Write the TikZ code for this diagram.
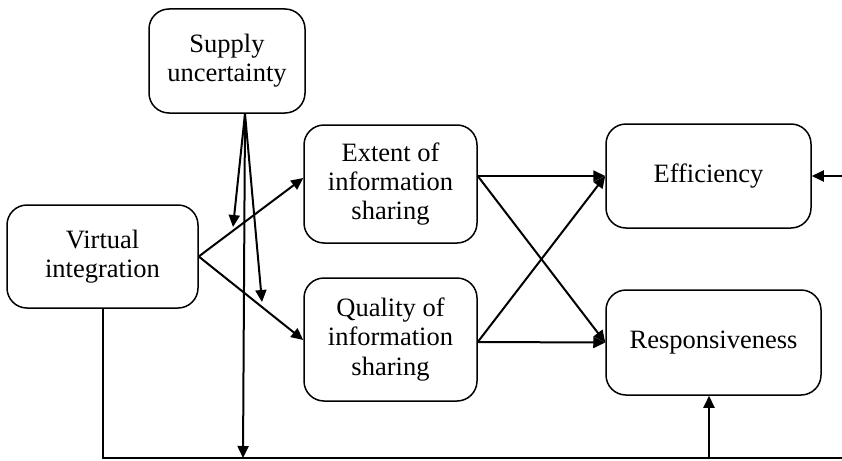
\documentclass[tikz,border=0pt]{standalone}
\usepackage{fontspec}
\setmainfont{Liberation Serif}
\usetikzlibrary{arrows.meta,calc}
\begin{document}
\begin{tikzpicture}[x=1pt,y=-1pt,
  box/.style={draw,line width=1.5pt,rounded corners=20pt,align=center,inner sep=0pt,
    font=\fontsize{26.5pt}{29.3pt}\selectfont},
  conn/.style={line width=2pt},
  arr/.style={conn,-{Triangle[length=12pt,width=11pt]}}]
\useasboundingbox (0,0) rectangle (842,460);
\node[box,minimum width=156pt,minimum height=104pt] (sup) at (227,61) {Supply\\uncertainty};
\node[box,minimum width=191pt,minimum height=103pt] (vi) at (102.5,256.5) {Virtual\\integration};
\node[box,minimum width=173pt,minimum height=118pt] (ext) at (390.5,184) {Extent of\\information\\sharing};
\node[box,minimum width=173pt,minimum height=123pt] (qual) at (390.5,339.5) {Quality of\\information\\sharing};
\node[box,minimum width=205pt,minimum height=104pt] (eff) at (708.5,176) {Efficiency};
\node[box,minimum width=215pt,minimum height=105pt] (resp) at (713.5,342.5) {Responsiveness};
% coordinates
\coordinate (s0) at ($(sup.south)+(18,0)$);
\coordinate (t1) at (233,227);
\coordinate (t2) at (262,302);
\coordinate (t3) at (243,458);
\coordinate (bl) at (102.5,458);
\coordinate (br) at (842,458);
\coordinate (rb) at (709,458);
\coordinate (re) at (842,176);
\coordinate (eo) at ($(ext.east)+(0,-8)$);
\coordinate (qo) at ($(qual.east)+(0,2.5)$);
% VI to mediators
\draw[arr] (vi.east) -- ($(ext.west)+(0,-6)$);
\draw[arr] (vi.east) -- ($(qual.west)+(0,0.5)$);
% mediators to outcomes
\draw[arr] (eo) -- (eff.west);
\draw[arr] (eo) -- (resp.west);
\draw[arr] (qo) -- (eff.west);
\draw[arr] (qo) -- (resp.west);
% supply uncertainty moderation
\draw[arr] (s0) -- (t1);
\draw[arr] (s0) -- (t2);
\draw[arr] (s0) -- (t3);
% bottom path
\draw[conn] (vi.south) -- (bl) -- (br);
\draw[arr] (rb) -- (rb |- resp.south);
\draw[arr] (re) -- (eff.east);
\end{tikzpicture}
\end{document}
